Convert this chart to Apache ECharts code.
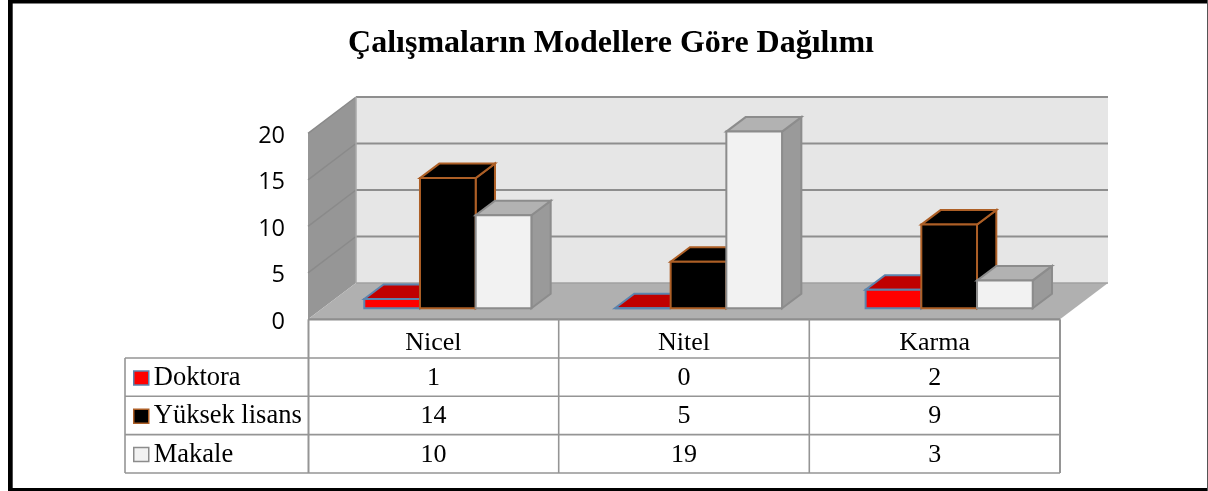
<!DOCTYPE html>
<html><head><meta charset="utf-8">
<style>html,body{margin:0;padding:0;background:#fff}#c{width:1208px;height:491px}</style>
<script src="https://cdn.jsdelivr.net/npm/echarts@6/dist/echarts.min.js"></script>
</head><body><div id="c"></div>
<script>
const titleText = 'Çalışmaların Modellere Göre Dağılımı';
const categories = ['Nicel', 'Nitel', 'Karma'];
const doktora = [1, 0, 2];
const yuksekLisans = [14, 5, 9];
const makale = [10, 19, 3];
const seriesNames = ['Doktora', 'Yüksek lisans', 'Makale'];
const seriesValues = [doktora, yuksekLisans, makale];
const yTicks = [0, 5, 10, 15, 20];

const looks = [
  {front:'#FF0000', top:'#C00000', side:'#A00000', edge:'#5B84AE', key:'#FF0000'},
  {front:'#000000', top:'#000000', side:'#000000', edge:'#AD5F26', key:'#000000'},
  {front:'#F2F2F2', top:'#B2B2B2', side:'#9A9A9A', edge:'#8C8C8C', key:'#F2F2F2'}
];
const SERIF = '"Liberation Serif","Times New Roman",serif';
const GRID = {l:308, r:1060, t:133.3, b:319.3};
const DEPTH = {x:48, y:36.3};
const BAR = {ratio:0.2222, dx:14.5, dy:11, tx:19.3, ty:14.5};
const ROWS = [319.3, 358, 396.3, 434.6, 473];
const COLS = [125, 308.5, 558.7, 809.3, 1060];

function poly(points, fill, stroke, lw){
  return {type:'polygon', shape:{points:points},
    style:{fill:fill, stroke:stroke||null, lineWidth:lw||0, lineJoin:'miter'}};
}
function seg(x1,y1,x2,y2,stroke,lw){
  return {type:'line', shape:{x1:x1,y1:y1,x2:x2,y2:y2}, style:{stroke:stroke, lineWidth:lw}};
}

function renderWalls(params, api){
  const p0 = api.coord([0, 0]);
  const pTop = api.coord([0, 20]);
  const catW = api.size([1, 0])[0];
  const xL = p0[0] - catW/2, xR = xL + catW*categories.length;
  const yB = p0[1], yT = pTop[1], dx = DEPTH.x, dy = DEPTH.y;
  const kids = [
    poly([[xL+dx,yT-dy],[xR+dx,yT-dy],[xR+dx,yB-dy],[xL+dx,yB-dy]], '#E6E6E6'),
    poly([[xL,yT],[xL+dx,yT-dy],[xL+dx,yB-dy],[xL,yB]], '#969696'),
    poly([[xL,yB],[xR,yB],[xR+dx,yB-dy],[xL+dx,yB-dy]], '#B0B0B0')
  ];
  yTicks.forEach(function(t){
    const y = api.coord([0, t])[1];
    kids.push(seg(xL+dx, y-dy, xR+dx, y-dy, t===0?'#A0A0A0':'#8E8E8E', t===0?1.5:2));
    if(t>0) kids.push(seg(xL, y, xL+dx, y-dy, '#8A8A8A', 1.5));
  });
  kids.push(seg(xL+dx, yT-dy, xL+dx, yB-dy, '#A8A8A8', 1.5));
  kids.push(seg(xL, yB, xR, yB, '#8E8E8E', 2.2));
  return {type:'group', children:kids};
}

function makeBarRenderer(seriesIndex){
  return function(params, api){
    const c = api.value(0), v = api.value(1);
    const look = looks[seriesIndex];
    const top = api.coord([c, v]);
    const base = api.coord([c, 0]);
    const w = api.size([1, 0])[0]*BAR.ratio;
    const x0 = top[0] + BAR.dx + (seriesIndex-1.5)*w;
    const x1 = x0 + w;
    const yB = base[1] - BAR.dy;
    const yT = top[1] - BAR.dy;
    const tx = BAR.tx, ty = BAR.ty, lw = 2;
    return {type:'group', children:[
      poly([[x1,yB],[x1+tx,yB-ty],[x1+tx,yT-ty],[x1,yT]], look.side, look.edge, lw),
      poly([[x0,yT],[x1,yT],[x1+tx,yT-ty],[x0+tx,yT-ty]], look.top, look.edge, lw),
      poly([[x0,yB],[x1,yB],[x1,yT],[x0,yT]], look.front, look.edge, lw)
    ]};
  };
}

const tableGraphics = [];
const LINE = '#959595';
function tableLine(x1,y1,x2,y2,lw){
  tableGraphics.push({type:'line', z:5, shape:{x1:x1,y1:y1,x2:x2,y2:y2}, style:{stroke:LINE, lineWidth:lw||1.6}});
}
for(let r=1;r<ROWS.length;r++) tableLine(COLS[0], ROWS[r], COLS[4], ROWS[r]);
tableLine(COLS[0], ROWS[1], COLS[0], ROWS[4]);
tableLine(COLS[1], ROWS[0], COLS[1], ROWS[4], 2);
tableLine(COLS[2], ROWS[0], COLS[2], ROWS[4]);
tableLine(COLS[3], ROWS[0], COLS[3], ROWS[4]);
tableLine(COLS[4], ROWS[0], COLS[4], ROWS[4], 2);
seriesValues.forEach(function(vals, s){
  vals.forEach(function(v, i){
    tableGraphics.push({type:'text', z:6,
      style:{x:(COLS[i+1]+COLS[i+2])/2, y:(ROWS[s+1]+ROWS[s+2])/2+1, text:String(v),
        font:'26px '+SERIF, fill:'#000', align:'center', verticalAlign:'middle'}});
  });
});
const frame = [
  {type:'rect', z:10, shape:{x:8,y:0,width:1200,height:3.5}, style:{fill:'#000'}},
  {type:'rect', z:10, shape:{x:8,y:0,width:4.7,height:491}, style:{fill:'#000'}},
  {type:'rect', z:10, shape:{x:8,y:488,width:1200,height:3}, style:{fill:'#000'}},
  {type:'rect', z:10, shape:{x:1207,y:0,width:1,height:491}, style:{fill:'#555'}}
];

const series = [{
  type:'custom', silent:true, z:1, coordinateSystem:'cartesian2d',
  renderItem:renderWalls, data:[[0,0]], encode:{x:0,y:1}, clip:false
}];
seriesNames.forEach(function(name, s){
  series.push({
    type:'custom', name:name, z:2+s, coordinateSystem:'cartesian2d',
    renderItem:makeBarRenderer(s), clip:false,
    itemStyle:{color:looks[s].key},
    encode:{x:0,y:1},
    data:categories.map(function(_, i){ return [i, seriesValues[s][i]]; })
  });
});

const chart = echarts.init(document.getElementById('c'), null, {renderer:'canvas'});
chart.setOption({
  animation:false,
  backgroundColor:'#fff',
  title:{text:titleText, left:606, top:23, textAlign:'center',
    textStyle:{fontFamily:SERIF, fontWeight:'bold', fontSize:32, color:'#000'}},
  grid:{left:GRID.l, top:GRID.t, width:GRID.r-GRID.l, height:GRID.b-GRID.t, containLabel:false},
  legend:{orient:'vertical', left:133, top:364.5, height:120, padding:0, itemWidth:15, itemHeight:14, itemGap:11.3,
    icon:'rect', selectedMode:false,
    textStyle:{fontFamily:SERIF, fontSize:26.5, color:'#000'},
    data:seriesNames.map(function(n,s){
      return {name:n, icon:'rect', itemStyle:{color:looks[s].key, borderColor:looks[s].edge, borderWidth:1.5}};
    })},
  xAxis:{type:'category', data:categories, boundaryGap:true,
    axisLine:{show:false}, axisTick:{show:false}, splitLine:{show:false},
    axisLabel:{margin:11, fontFamily:SERIF, fontSize:26, color:'#000'}},
  yAxis:{type:'value', min:0, max:20, interval:5,
    axisLine:{show:false}, axisTick:{show:false}, splitLine:{show:false},
    axisLabel:{margin:23, formatter:'{a|{value}}', color:'#000',
      rich:{a:{fontFamily:'"Open Sans",sans-serif', fontSize:23.5, color:'#000', padding:[6,0,0,0]}}}},
  series:series,
  graphic:tableGraphics.concat(frame)
});
</script></body></html>
